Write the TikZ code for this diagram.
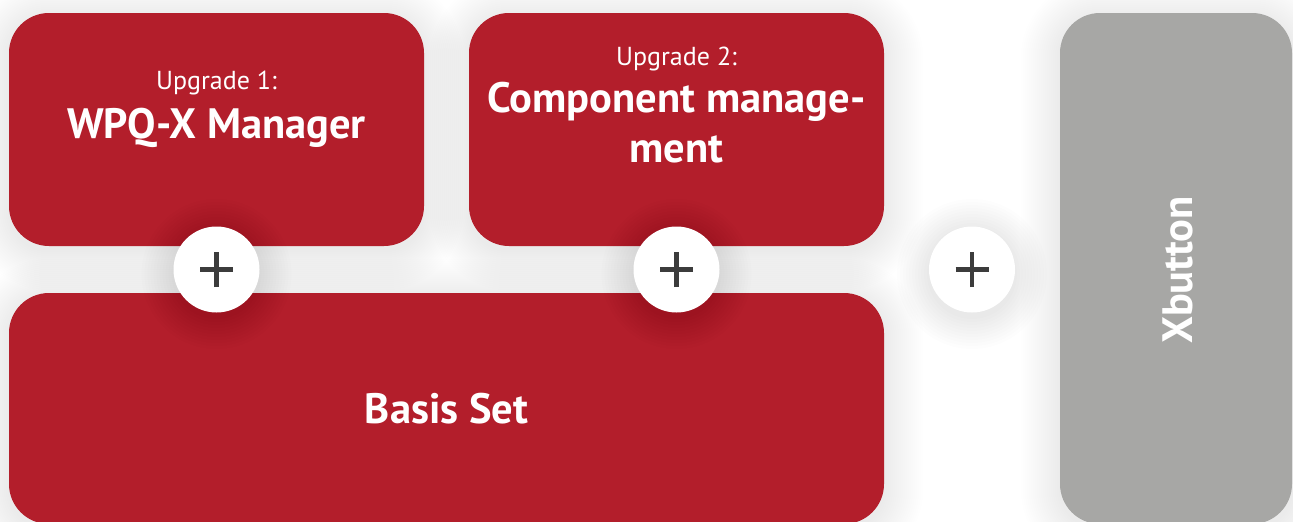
\documentclass[tikz,border=0pt]{standalone}
\usepackage{fontspec}
\setmainfont{PT Sans}
\definecolor{wred}{HTML}{B31E2B}
\definecolor{wgray}{HTML}{A7A7A5}
\definecolor{pluscol}{HTML}{3C3C3C}
\pgfdeclarelayer{back}
\pgfdeclarelayer{shade}
\pgfsetlayers{back,shade,main}
\tikzset{
  card/.style={rounded corners=40pt, inner sep=0pt, draw=none},
  redcard/.style={card, fill=wred},
  graycard/.style={card, fill=wgray},
  small/.style={text=white, font=\fontsize{26}{30}\selectfont, anchor=base, inner sep=0pt},
  big/.style={text=white, font=\bfseries\fontsize{42.5}{49}\selectfont, anchor=base, inner sep=0pt},
  plusdisc/.style={circle, fill=white, minimum size=86pt, inner sep=0pt},
  plusbar/.style={draw=pluscol, line width=4.5pt},
  shadelayer/.style={fill=black, opacity=0.0045}
}
\newcommand{\cardshade}[1]{%
  \foreach \e in {1,3,...,39}{
    \fill[shadelayer, rounded corners=40pt+\e pt]
      ([shift={(-\e,-\e+5)}]#1.north west) rectangle ([shift={(\e,\e+5)}]#1.south east);
  }}
\begin{document}
\begin{tikzpicture}[x=1pt,y=-1pt]
\clip (0,0) rectangle (1293,522);
\begin{pgfonlayer}{back}
\fill[white] (0,0) rectangle (1293,522);
\end{pgfonlayer}
% cards
\node[redcard, minimum width=415pt, minimum height=233pt] (up1) at (216.5,129.5) {};
\node[redcard, minimum width=415pt, minimum height=233pt] (up2) at (676.5,129.5) {};
\node[redcard, minimum width=875pt, minimum height=231pt] (basis) at (446.5,408.5) {};
\node[graycard, minimum width=232pt, minimum height=511pt] (xbtn) at (1176,268.5) {};
\begin{pgfonlayer}{shade}
\cardshade{up1}
\cardshade{up2}
\cardshade{basis}
\cardshade{xbtn}
\end{pgfonlayer}
% texts
\node[small] (u1a) at (216.5,89) {Upgrade 1:};
\node[big] (u1b) at (216.5,138) {WPQ-X Manager};
\node[small] (u2a) at (676.5,65) {Upgrade 2:};
\node[big] (u2b) at (676.5,112) {Component manage-};
\node[big] (u2c) at (676.5,162) {ment};
\node[big] (bt) at (446.5,423) {Basis Set};
\node[big, rotate=90] (xt) at (1192,270) {Xbutton};
% plus circles
\foreach \n/\x in {p1/216.5, p2/676.5, p3/972}{
  \foreach \e in {2,5,...,32}{
    \fill[shadelayer, opacity=0.006] (\x,274) circle[radius=43pt+\e pt];
  }
  \node[plusdisc] (\n) at (\x,269.5) {};
  \draw[plusbar] ([xshift=-16.5pt]\n.center) -- ([xshift=16.5pt]\n.center);
  \draw[plusbar] ([yshift=-17.5pt]\n.center) -- ([yshift=17.5pt]\n.center);
}
\end{tikzpicture}
\end{document}
